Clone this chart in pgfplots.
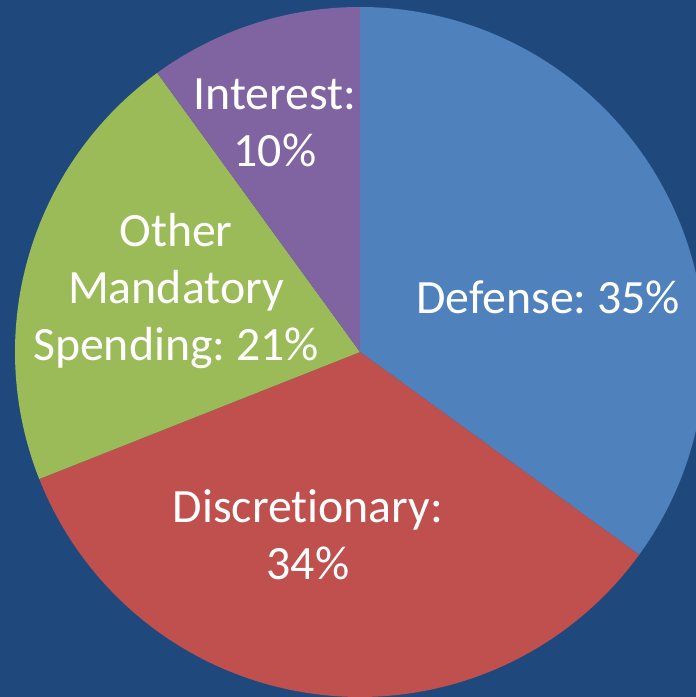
\documentclass[border=0pt]{standalone}
\usepackage{pgfplots}
\pgfplotsset{compat=1.18}
\usepackage{pgfplotstable}
\usepackage{fontspec}
\setmainfont[Ligatures=NoCommon]{Carlito}
\definecolor{bg}{HTML}{1F497D}
\definecolor{cdef}{HTML}{4F81BD}
\definecolor{cdis}{HTML}{C0504D}
\definecolor{coth}{HTML}{9BBB59}
\definecolor{cint}{HTML}{8064A2}
\pgfplotstableread{
label value
Defense 35
Discretionary 34
Other 21
Interest 10
}\piedata
\pgfplotstablegetelem{0}{value}\of\piedata \let\vA\pgfplotsretval
\pgfplotstablegetelem{1}{value}\of\piedata \let\vB\pgfplotsretval
\pgfplotstablegetelem{2}{value}\of\piedata \let\vC\pgfplotsretval
\pgfplotstablegetelem{3}{value}\of\piedata \let\vD\pgfplotsretval
\pgfmathsetmacro\aA{90-3.6*\vA}
\pgfmathsetmacro\aB{\aA-3.6*\vB}
\pgfmathsetmacro\aC{\aB-3.6*\vC}
\pgfmathsetmacro\aD{\aC-3.6*\vD}
\begin{document}
\begin{tikzpicture}
\begin{axis}[
  scale only axis, width=696bp, height=697bp,
  xmin=0, xmax=696, ymin=0, ymax=697,
  axis line style={draw=none}, ticks=none,
  axis background/.style={fill=bg},
  clip=true,
]
\addplot[fill=cdef, draw=none, domain=\aA:90, samples=120] ({360+345*cos(x)},{345+345*sin(x)}) -- (axis cs:360,345) -- cycle;
\addplot[fill=cdis, draw=none, domain=\aB:\aA, samples=120] ({360+345*cos(x)},{345+345*sin(x)}) -- (axis cs:360,345) -- cycle;
\addplot[fill=coth, draw=none, domain=\aC:\aB, samples=100] ({360+345*cos(x)},{345+345*sin(x)}) -- (axis cs:360,345) -- cycle;
\addplot[fill=cint, draw=none, domain=\aD:\aC, samples=60] ({360+345*cos(x)},{345+345*sin(x)}) -- (axis cs:360,345) -- cycle;
\begin{scope}[every node/.style={text=white, font=\fontsize{48}{57}\selectfont, align=center}]
\node at (axis cs:275,574) {Interest:\\10\%};
\node at (axis cs:176,406) {Other\\Mandatory\\Spending:\hspace{-0.08em} 21\%};
\node at (axis cs:548,400) {Defense:\hspace{-0.08em} 35\%};
\node at (axis cs:308,162) {Discretionary:\\34\%};
\end{scope}
\end{axis}
\end{tikzpicture}
\end{document}
